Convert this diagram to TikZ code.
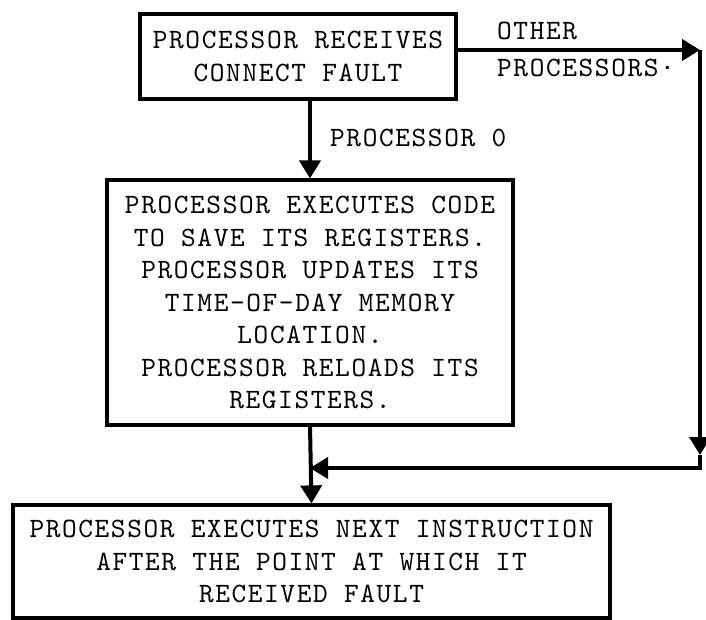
\documentclass[tikz,border=0pt]{standalone}
\usepackage{fontspec}
\usetikzlibrary{arrows.meta}
\newfontfamily\typewriter[LetterSpace=5.7]{lmmono10-regular.otf}
\newcommand{\flowfont}{\typewriter\fontsize{28}{32.5}\selectfont}

\begin{document}
\begin{tikzpicture}[x=1pt,y=-1pt,
		box/.style={draw, line width=3.2pt, align=center, inner sep=0pt, font=\flowfont},
		lbl/.style={anchor=base west, inner sep=0pt, font=\flowfont},
		flow/.style={line width=4pt, -{Triangle[length=18pt,width=21pt]}}
	]
		\useasboundingbox (0,0) rectangle (706,620);

		% fault arrives
		\node[box, minimum width=316, minimum height=85] (recv) at (298,56.5)
			{PROCESSOR RECEIVES\\CONNECT FAULT};

		% processor 0 path
		\node[box, minimum width=406, minimum height=245] (save) at (310,302.5)
			{PROCESSOR EXECUTES CODE\\TO SAVE ITS REGISTERS.\\PROCESSOR UPDATES ITS\\TIME-OF-DAY MEMORY\\LOCATION.\\PROCESSOR RELOADS ITS\\REGISTERS.};
		\draw[flow] (recv.south -| save.north) -- (save.north);
		\node[lbl] (zero) at (330,147) {PROCESSOR 0};

		% resume
		\node[box, minimum width=597, minimum height=113] (next) at (311.5,561.5)
			{PROCESSOR EXECUTES NEXT INSTRUCTION\\AFTER THE POINT AT WHICH IT\\RECEIVED FAULT};
		\draw[flow] (save.south) -- (next.north);

		% other processors
		\coordinate (corner) at (700,50);
		\coordinate (drop) at (700,455);
		\coordinate (turn) at (700,468);
		\node[lbl] (other) at (497,40) {OTHER};
		\node[lbl] (others) at (497,77) {PROCESSORS·};
		\draw[flow] (recv.east |- corner) -- (corner);
		\draw[flow] (corner) -- (drop);
		\draw[flow] (drop) -- (turn) -- (turn -| save.south);

\end{tikzpicture}
\end{document}
